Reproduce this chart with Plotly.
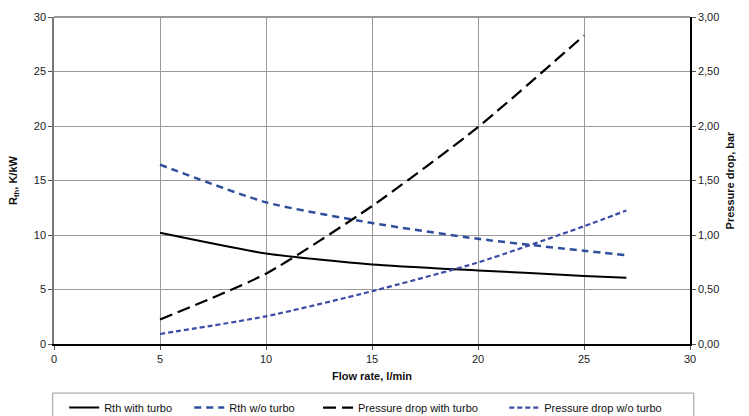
import plotly.graph_objects as go

# Data
flow = [5, 10, 15, 20, 25, 27]
rth_turbo = [10.2, 8.3, 7.3, 6.75, 6.25, 6.07]
rth_no_turbo = [16.45, 13.0, 11.1, 9.65, 8.55, 8.15]
flow_dp_turbo = [5, 10, 15, 20, 25]
dp_turbo = [0.224, 0.645, 1.265, 1.99, 2.83]
dp_no_turbo = [0.092, 0.254, 0.484, 0.748, 1.08, 1.225]

series_names = ["Rth with turbo", "Rth w/o turbo", "Pressure drop with turbo", "Pressure drop w/o turbo"]
x_ticks = [0, 5, 10, 15, 20, 25, 30]
y_left_ticks = [0, 5, 10, 15, 20, 25, 30]
y_right_ticks = [0.0, 0.5, 1.0, 1.5, 2.0, 2.5, 3.0]
y_right_labels = ["0,00", "0,50", "1,00", "1,50", "2,00", "2,50", "3,00"]

BLUE = "#2F4E9C"
BLUE2 = "#3A4CA4"
FONT = "Liberation Sans, Arial, sans-serif"
NB = "\u00a0"
pads = [4, 6, 7, 0]  # spacing after legend labels
labels = [n + NB * p for n, p in zip(series_names, pads)]

fig = go.Figure()
fig.add_trace(go.Scatter(x=flow, y=rth_turbo, name=labels[0], mode="lines",
                         line=dict(color="black", width=2, shape="spline", smoothing=0.6)))
fig.add_trace(go.Scatter(x=flow, y=rth_no_turbo, name=labels[1], mode="lines",
                         line=dict(color=BLUE, width=2.5, dash="7px,5px", shape="spline", smoothing=0.6)))
fig.add_trace(go.Scatter(x=flow_dp_turbo, y=dp_turbo, name=labels[2], mode="lines",
                         yaxis="y2",
                         line=dict(color="black", width=2.2, dash="13px,6px", shape="spline", smoothing=0.6)))
fig.add_trace(go.Scatter(x=flow, y=dp_no_turbo, name=labels[3], mode="lines",
                         yaxis="y2",
                         line=dict(color=BLUE2, width=2.2, dash="5px,3px", shape="spline", smoothing=0.6)))

fig.update_layout(
    width=749, height=416,
    margin=dict(l=54, r=59, t=17, b=72, autoexpand=False),
    paper_bgcolor="white", plot_bgcolor="white",
    font=dict(family=FONT, size=11, color="#222"),
    showlegend=True,
    xaxis=dict(range=[0, 30], tickvals=x_ticks, ticks="outside", ticklen=4, tickcolor="#555",
               showgrid=True, gridcolor="#9a9a9a", gridwidth=1, zeroline=False, automargin=False,
               showline=True, linecolor="black", linewidth=1.5, mirror=False,
               title=dict(text="<b>Flow rate, l/min</b>", font=dict(size=11, color="#111"), standoff=8)),
    yaxis=dict(range=[0, 30], tickvals=y_left_ticks, ticks="outside", ticklen=4, tickcolor="#555",
               showgrid=True, gridcolor="#9a9a9a", gridwidth=1, zeroline=False, automargin=False,
               showline=True, linecolor="#777", linewidth=1.5,
               title=dict(text="<b>R<sub>th</sub>, K/kW</b>", font=dict(size=11, color="#111"), standoff=14)),
    yaxis2=dict(range=[0, 3], tickvals=y_right_ticks, ticktext=y_right_labels, overlaying="y", side="right",
                ticks="outside", ticklen=4, tickcolor="#555", showgrid=False, zeroline=False, automargin=False,
                showline=True, linecolor="black", linewidth=1.5,
                title=dict(text="<b>Pressure drop, bar</b>", font=dict(size=11, color="#111"), standoff=8)),
    legend=dict(orientation="h", x=0.016, xanchor="left", y=-0.15, yanchor="top",
                borderwidth=0, bgcolor="rgba(0,0,0,0)",
                font=dict(size=11, color="#111"), entrywidth=0,
                itemwidth=30, tracegroupgap=0),
)
# top border line (gray frame)
fig.add_shape(type="line", xref="paper", yref="paper", x0=0, x1=1, y0=1, y1=1,
              line=dict(color="#777", width=1.5))
# legend frame spanning the chart width
fig.add_shape(type="rect", xref="paper", yref="paper", x0=-0.002, x1=1.006, y0=-0.15, y1=-0.3,
              line=dict(color="#999", width=1), fillcolor="rgba(0,0,0,0)", layer="below")

fig.write_html("out.html", post_script="document.body.style.margin='0';",
               config={"displayModeBar": False})
